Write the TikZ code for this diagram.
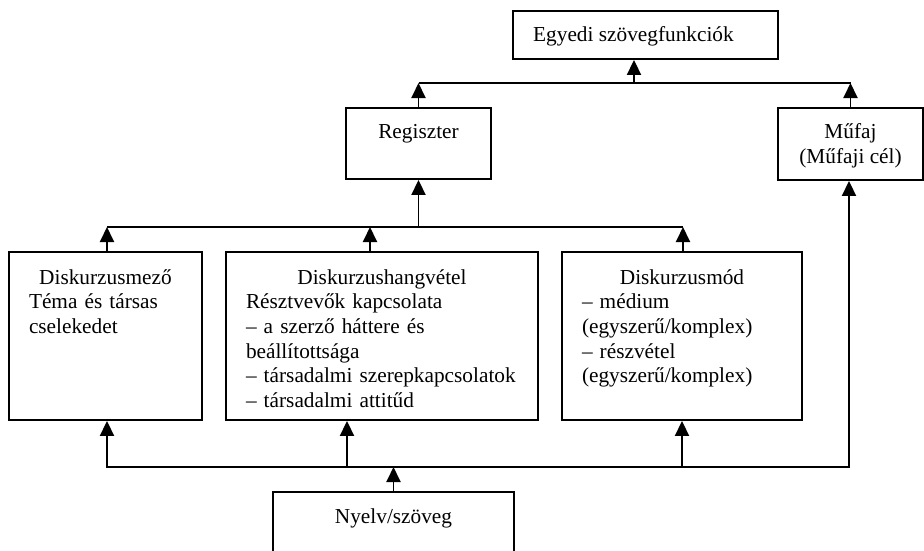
\documentclass[tikz,border=0pt]{standalone}
\usepackage{fontspec}
\setmainfont{Liberation Serif}
\usetikzlibrary{arrows.meta}
\begin{document}
\begin{tikzpicture}[x=1pt,y=-1pt,
  box/.style={draw, line width=1.9pt, inner sep=0pt},
  lbl/.style={font=\fontsize{21.3}{24.6}\selectfont, inner sep=0pt},
  para/.style={lbl, anchor=north, align=left},
  ln/.style={line width=1.9pt},
  tipa/.tip={Triangle[length=15pt 0 0,width=14pt 0 0]},
  arr/.style={ln, -tipa},
  arrr/.style={ln, tipa-tipa}]
\clip (0,0) rectangle (924,551);
% boxes
\node[box, minimum width=265pt, minimum height=48pt] (ego) at (645.5,35) {};
\node[box, minimum width=145pt, minimum height=71pt] (reg) at (418.5,143.5) {};
\node[box, minimum width=145pt, minimum height=72pt] (muf) at (850.5,144) {};
\node[box, minimum width=193pt, minimum height=168pt] (mezo) at (105.5,336) {};
\node[box, minimum width=312pt, minimum height=168pt] (hang) at (382,336) {};
\node[box, minimum width=240pt, minimum height=168pt] (mod) at (682,336) {};
\node[box, minimum width=241pt, minimum height=70pt] (nyelv) at (393.5,527) {};
% texts
\node[lbl, anchor=base west] (egot) at (533,42) {Egyedi szövegfunkciók};
\node[lbl, anchor=base] (regt) at (418.5,138) {Regiszter};
\node[lbl, anchor=base] (muft1) at (850.5,138) {Műfaj};
\node[lbl, anchor=base] (muft2) at (850.5,163) {(Műfaji cél)};
\node[lbl, anchor=base] (nyelvt) at (393.5,523) {Nyelv/szöveg};
\node[para, text width=153pt] (mezot) at (105.5,266.8)
  {\strut\makebox[\linewidth]{Diskurzusmező}\\Téma és társas\\cselekedet};
\node[para, text width=272pt] (hangt) at (382,266.8)
  {\strut\makebox[\linewidth]{Diskurzushangvétel}\\Résztvevők kapcsolata\\– a szerző háttere és\\beállítottsága\\– társadalmi szerepkapcsolatok\\– társadalmi attitűd};
\node[para, text width=200pt] (modt) at (682,266.8)
  {\strut\makebox[\linewidth]{Diskurzusmód}\\– médium\\(egyszerű/komplex)\\– részvétel\\(egyszerű/komplex)};
% junction coordinates
\coordinate (jt) at (634,83);
\coordinate (jml) at (107,227);
\coordinate (jmh) at (370,227);
\coordinate (jmr) at (683,227);
\coordinate (jbl) at (107,467);
\coordinate (jbh) at (347,467);
\coordinate (jbm) at (682,467);
\coordinate (jbr) at (849,467);
% top level
\draw[ln] (reg.north |- jt) -- (muf.north |- jt);
\draw[arr] (reg.north) -- (reg.north |- jt);
\draw[arr] (muf.north) -- (muf.north |- jt);
\draw[arr] (jt) -- (jt |- ego.south);
% middle level
\draw[ln] (jml) -- (jmr);
\draw[arr] (reg.north |- jml) -- (reg.south);
\draw[arr] (jml |- mezo.north) -- (jml);
\draw[arr] (jmh |- hang.north) -- (jmh);
\draw[arr] (jmr |- mod.north) -- (jmr);
% bottom level
\draw[arrr] (jbl |- mezo.south) -- (jbl) -- (jbr) -- (jbr |- muf.south);
\draw[arr] (jbh) -- (jbh |- hang.south);
\draw[arr] (jbm) -- (jbm |- mod.south);
\draw[arr] (nyelv.north) -- (nyelv.north |- jbl);
\end{tikzpicture}
\end{document}
